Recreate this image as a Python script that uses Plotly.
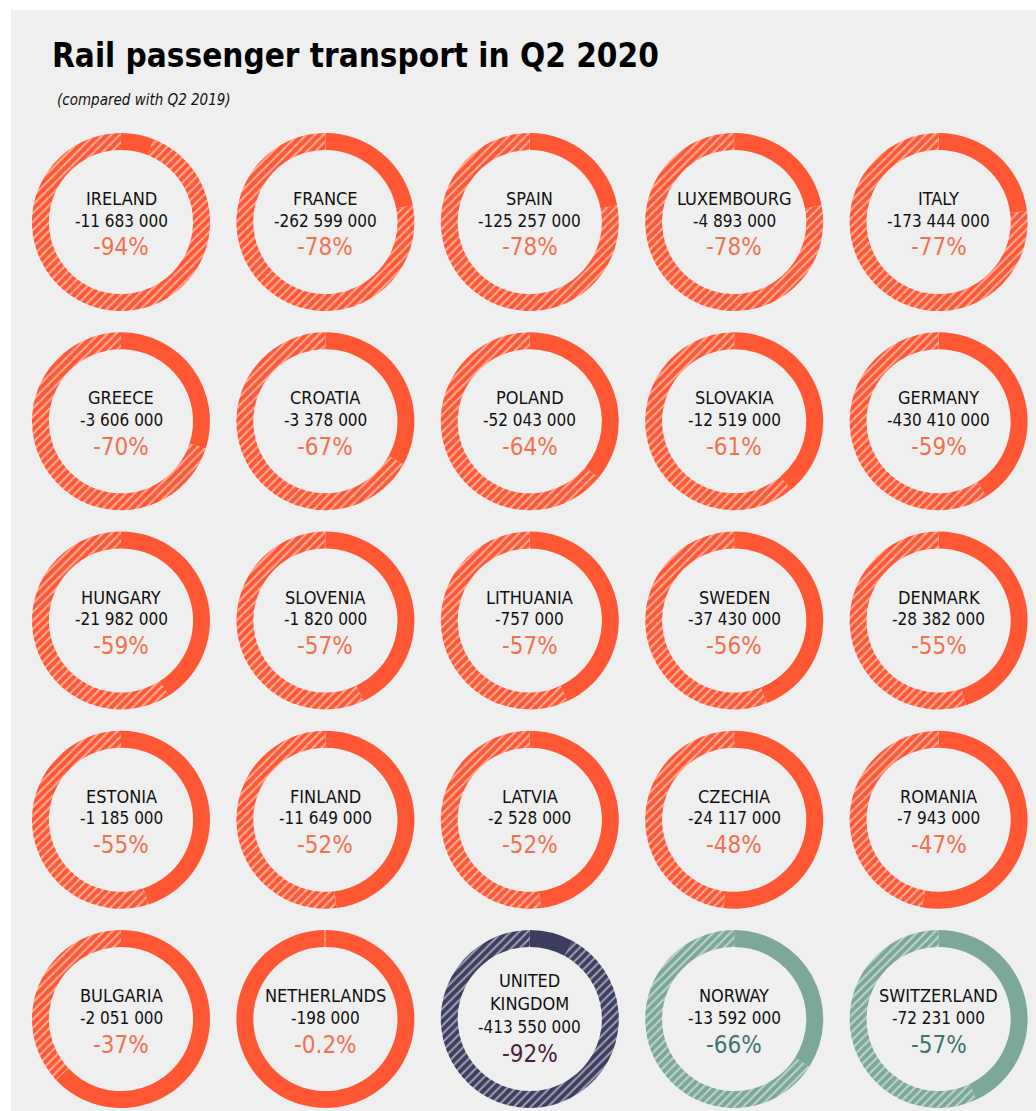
import plotly.graph_objects as go

# Rail passenger transport, Q2 2020 vs Q2 2019
countries = [
    "IRELAND", "FRANCE", "SPAIN", "LUXEMBOURG", "ITALY",
    "GREECE", "CROATIA", "POLAND", "SLOVAKIA", "GERMANY",
    "HUNGARY", "SLOVENIA", "LITHUANIA", "SWEDEN", "DENMARK",
    "ESTONIA", "FINLAND", "LATVIA", "CZECHIA", "ROMANIA",
    "BULGARIA", "NETHERLANDS", "UNITED<br>KINGDOM", "NORWAY", "SWITZERLAND",
]
change_passengers = [
    -11683000, -262599000, -125257000, -4893000, -173444000,
    -3606000, -3378000, -52043000, -12519000, -430410000,
    -21982000, -1820000, -757000, -37430000, -28382000,
    -1185000, -11649000, -2528000, -24117000, -7943000,
    -2051000, -198000, -413550000, -13592000, -72231000,
]
change_pct = [
    -94, -78, -78, -78, -77,
    -70, -67, -64, -61, -59,
    -59, -57, -57, -56, -55,
    -55, -52, -52, -48, -47,
    -37, -0.2, -92, -66, -57,
]
group = [
    "EU", "EU", "EU", "EU", "EU",
    "EU", "EU", "EU", "EU", "EU",
    "EU", "EU", "EU", "EU", "EU",
    "EU", "EU", "EU", "EU", "EU",
    "EU", "EU", "UK", "EFTA", "EFTA",
]

ring_color = {"EU": "#FF5733", "UK": "#3D3D60", "EFTA": "#7BA89B"}
pct_color = {"EU": "#F2714F", "UK": "#4A2340", "EFTA": "#3E7371"}

W, H = 1036, 1111
R = 89
col_x = [121 + 204.4 * c for c in range(5)]
row_y = [222 + 199.25 * r for r in range(5)]

LABEL_FONT = "DejaVu Sans Condensed"
NAME_SIZE = 18

fig = go.Figure()
annotations = []

for i, name in enumerate(countries):
    cx = col_x[i % 5]
    cy = row_y[i // 5]
    drop = abs(change_pct[i])
    col = ring_color[group[i]]
    fig.add_trace(go.Pie(
        values=[100 - drop, drop],
        sort=False,
        direction="clockwise",
        rotation=0,
        hole=0.81,
        textinfo="none",
        hoverinfo="skip",
        showlegend=False,
        marker=dict(
            colors=[col, col],
            line=dict(width=0),
            pattern=dict(shape=["", "/"], fgcolor="white", fillmode="overlay",
                         size=6, solidity=0.35),
        ),
        domain=dict(x=[(cx - R) / W, (cx + R) / W],
                    y=[1 - (cy + R) / H, 1 - (cy - R) / H]),
    ))

    # stacked label block: name (one or two lines), count, percentage
    n = name.count("<br>") + 1
    shift = 9 * (n - 1)
    num_y = cy - 1.5 + shift
    pct_y = cy + 25.5 + shift
    last_line_y = num_y - 22 - (n - 1)
    name_y = last_line_y - (n - 1) * NAME_SIZE * 1.3 / 2
    annotations.append(dict(
        x=cx / W, y=1 - name_y / H, xref="paper", yref="paper",
        text=name, showarrow=False, xanchor="center", yanchor="middle",
        font=dict(family=LABEL_FONT, size=NAME_SIZE, color="#111111"),
    ))
    num_text = f"{change_passengers[i]:,}".replace(",", " ")
    annotations.append(dict(
        x=cx / W, y=1 - num_y / H, xref="paper", yref="paper",
        text=num_text, showarrow=False, xanchor="center", yanchor="middle",
        font=dict(family=LABEL_FONT, size=17, color="#111111"),
    ))
    annotations.append(dict(
        x=cx / W, y=1 - pct_y / H, xref="paper", yref="paper",
        text=f"{change_pct[i]:g}%", showarrow=False, xanchor="center", yanchor="middle",
        font=dict(family=LABEL_FONT, size=24, color=pct_color[group[i]]),
    ))

# Title and subtitle
annotations.append(dict(
    x=50 / W, y=1 - 56 / H, xref="paper", yref="paper",
    text="Rail passenger transport in Q2 2020", showarrow=False,
    xanchor="left", yanchor="middle",
    font=dict(family=LABEL_FONT, size=33, color="#000000", weight=700),
))
annotations.append(dict(
    x=55 / W, y=1 - 100 / H, xref="paper", yref="paper",
    text="<i>(compared with Q2 2019)</i>", showarrow=False,
    xanchor="left", yanchor="middle",
    font=dict(family=LABEL_FONT, size=15, color="#111111"),
))

fig.update_layout(
    width=W, height=H,
    margin=dict(l=0, r=0, t=0, b=0),
    paper_bgcolor="white",
    plot_bgcolor="white",
    annotations=annotations,
    shapes=[dict(type="rect", xref="paper", yref="paper",
                 x0=11 / W, x1=1, y0=0, y1=1 - 10 / H,
                 fillcolor="#EFEFEF", line=dict(width=0), layer="below")],
)

fig.write_html("out.html")
